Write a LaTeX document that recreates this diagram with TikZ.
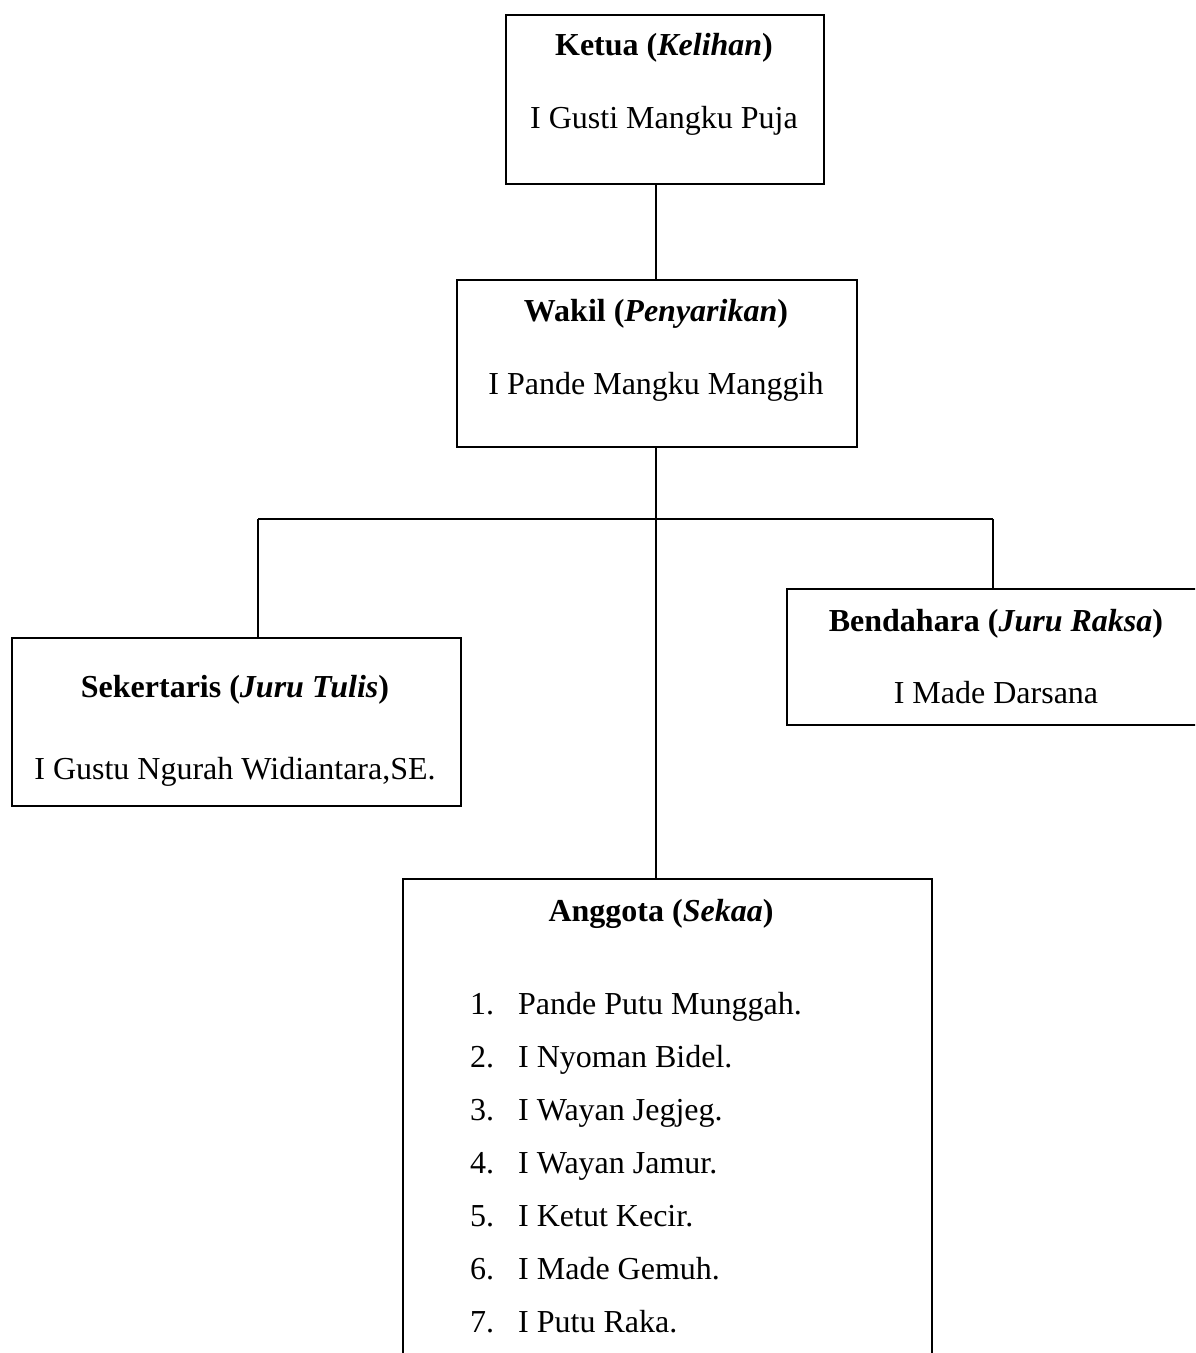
\documentclass[tikz,border=0pt]{standalone}
\usepackage{fontspec}
\setmainfont{Liberation Serif}
\begin{document}
\begin{tikzpicture}[x=1pt,y=-1pt,
  box/.style={draw,line width=1.6pt,inner sep=0pt,anchor=north west},
  wire/.style={line width=1.6pt},
  txt/.style={inner sep=0pt,anchor=base,font=\fontsize{32}{38}\selectfont},
  ltxt/.style={inner sep=0pt,anchor=base west,font=\fontsize{32}{38}\selectfont}]
\useasboundingbox (0,0) rectangle (1195,1353);
\clip (0,0) rectangle (1195,1353);
% boxes
\node[box,minimum width=318pt,minimum height=169pt] (ketua) at (505,14) {};
\node[box,minimum width=400pt,minimum height=167pt] (wakil) at (456,279) {};
\node[box,minimum width=449pt,minimum height=168pt] (sek) at (11,637) {};
\node[box,minimum width=430pt,minimum height=136pt] (bend) at (786,588) {};
\node[box,minimum width=529pt,minimum height=500pt] (angg) at (402,878) {};
% connectors
\coordinate (jc) at (656,519);
\coordinate (jl) at (258,519);
\coordinate (jr) at (993,519);
\draw[wire] (ketua.south -| jc) -- (wakil.north -| jc);
\draw[wire] (wakil.south -| jc) -- (angg.north -| jc);
\draw[wire] (jl) -- (jr);
\draw[wire] (jl) -- (sek.north -| jl);
\draw[wire] (jr) -- (bend.north -| jr);
% texts
\node[txt] (t1) at (664,55) {\textbf{Ketua (\textit{Kelihan})}};
\node[txt] (n1) at (664,128) {I Gusti Mangku Puja};
\node[txt] (t2) at (656,321) {\textbf{Wakil (\textit{Penyarikan})}};
\node[txt] (n2) at (656,394) {I Pande Mangku Manggih};
\node[txt] (t3) at (235,697) {\textbf{Sekertaris (\textit{Juru Tulis})}};
\node[txt] (n3) at (235,779) {I Gustu Ngurah Widiantara,SE.};
\node[txt] (t4) at (996,631) {\textbf{Bendahara (\textit{Juru Raksa})}};
\node[txt] (n4) at (996,703) {I Made Darsana};
\node[txt] (t5) at (661,921) {\textbf{Anggota (\textit{Sekaa})}};
\foreach \i/\name [count=\k from 0] in {1/Pande Putu Munggah.,2/I Nyoman Bidel.,3/I Wayan Jegjeg.,4/I Wayan Jamur.,5/I Ketut Kecir.,6/I Made Gemuh.,7/I Putu Raka.}{
  \node[ltxt] (num\i) at (470,1014+53*\k) {\i.};
  \node[ltxt] (mem\i) at (518,1014+53*\k) {\name};
}
\end{tikzpicture}
\end{document}
